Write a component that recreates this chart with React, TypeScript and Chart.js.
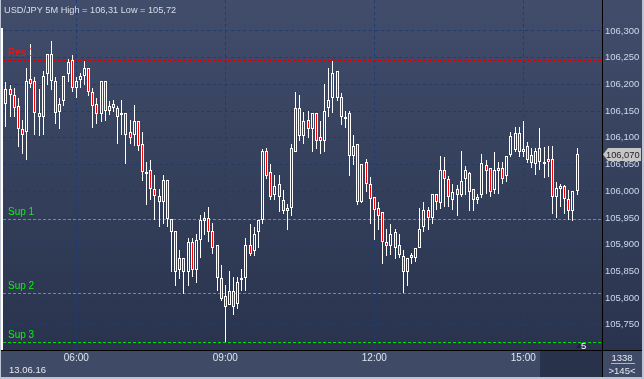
import React, { useEffect, useRef } from "react";
import { Chart, registerables } from "chart.js";

Chart.register(...registerables);

// ---------- data ----------
const titleText = "USD/JPY 5M High = 106,31 Low = 105,72";
const dateLabel = "13.06.16";
const startTime = "04:35";
const stepMinutes = 5;
const xTickTimes = ["06:00", "09:00", "12:00", "15:00"];
const yTickValues = [105.75, 105.8, 105.85, 105.9, 105.95, 106.0, 106.05, 106.1, 106.15, 106.2, 106.25, 106.3];
const levelNames = ["Res 1", "Sup 1", "Sup 2", "Sup 3"];
const levelValues = [106.246, 105.948, 105.81, 105.718];
const levelColors = ["#e00000", "#00e000", "#00e000", "#00e000"];
const totalBars = "1338";
const visibleBars = ">145<";
const shiftLabel = "5";

const opens = [
  106.164, 106.191, 106.18, 106.16, 106.116, 106.11, 106.21, 106.206, 106.146, 106.139,
  106.219, 106.257, 106.206, 106.149, 106.169, 106.219, 106.246, 106.194, 106.209, 106.215,
  106.23, 106.185, 106.164, 106.145, 106.206, 106.15, 106.164, 106.155, 106.146, 106.146,
  106.11, 106.105, 106.131, 106.089, 106.035, 106.039, 106.005, 105.991, 105.979, 106.021,
  105.948, 105.925, 105.852, 105.874, 105.849, 105.904, 105.853, 105.909, 105.944, 105.949,
  105.925, 105.899, 105.838, 105.804, 105.786, 105.814, 105.788, 105.834, 105.838, 105.899,
  105.888, 105.924, 105.946, 106.075, 106.035, 105.993, 106.014, 105.984, 105.969, 105.969,
  106.074, 106.155, 106.104, 106.134, 106.116, 106.146, 106.101, 106.094, 106.155, 106.175,
  106.225, 106.176, 106.139, 106.146, 106.065, 106.089, 105.98, 106.054, 106.014, 105.99,
  105.969, 105.961, 105.904, 105.898, 105.924, 105.899, 105.879, 105.849, 105.88, 105.874,
  105.894, 105.933, 105.964, 105.949, 105.994, 105.978, 106.039, 106.023, 105.983, 106.004,
  105.992, 106.023, 106.034, 106.004, 105.984, 105.992, 106.049, 106.044, 106.003, 106.038,
  106.044, 106.028, 106.068, 106.078, 106.109, 106.073, 106.085, 106.068, 106.05, 106.08,
  106.055, 106.06, 106.06, 105.989, 106.005, 106.009, 105.985, 105.963, 106.0,
];
const highs = [
  106.205, 106.198, 106.193, 106.174, 106.133, 106.231, 106.276, 106.213, 106.191, 106.225,
  106.257, 106.281, 106.213, 106.174, 106.216, 106.248, 106.255, 106.214, 106.222, 106.244,
  106.23, 106.193, 106.174, 106.206, 106.206, 106.168, 106.171, 106.16, 106.171, 106.146,
  106.133, 106.161, 106.131, 106.111, 106.055, 106.059, 106.03, 106.005, 106.03, 106.021,
  105.948, 105.925, 105.889, 105.874, 105.913, 105.913, 105.919, 105.955, 105.961, 105.971,
  105.941, 105.899, 105.861, 105.824, 105.851, 105.839, 105.839, 105.854, 105.913, 105.939,
  105.933, 105.946, 106.079, 106.08, 106.051, 106.03, 106.03, 106.002, 105.976, 106.089,
  106.185, 106.18, 106.149, 106.15, 106.146, 106.146, 106.131, 106.2, 106.23, 106.243,
  106.225, 106.183, 106.15, 106.15, 106.105, 106.089, 106.05, 106.06, 106.027, 105.99,
  105.98, 105.961, 105.929, 105.939, 105.929, 105.919, 105.889, 105.874, 105.885, 105.894,
  105.969, 105.979, 105.971, 105.994, 105.994, 106.065, 106.064, 106.029, 106.013, 106.011,
  106.075, 106.048, 106.036, 106.004, 105.995, 106.07, 106.058, 106.044, 106.074, 106.054,
  106.054, 106.065, 106.111, 106.12, 106.12, 106.131, 106.093, 106.08, 106.08, 106.118,
  106.082, 106.085, 106.085, 106.018, 106.014, 106.011, 106.002, 106.0, 106.08,
];
const lows = [
  106.121, 106.139, 106.139, 106.083, 106.069, 106.058, 106.193, 106.105, 106.104, 106.105,
  106.199, 106.189, 106.125, 106.116, 106.159, 106.205, 106.185, 106.175, 106.193, 106.199,
  106.179, 106.119, 106.125, 106.129, 106.131, 106.143, 106.149, 106.089, 106.105, 106.05,
  106.089, 106.085, 106.075, 106.019, 105.975, 105.983, 105.946, 105.933, 105.938, 105.933,
  105.849, 105.822, 105.836, 105.808, 105.822, 105.839, 105.828, 105.874, 105.918, 105.905,
  105.883, 105.813, 105.794, 105.718, 105.786, 105.769, 105.78, 105.814, 105.814, 105.878,
  105.878, 105.894, 105.939, 106.023, 105.984, 105.984, 105.961, 105.958, 105.927, 105.954,
  106.074, 106.094, 106.088, 106.099, 106.074, 106.079, 106.069, 106.074, 106.139, 106.146,
  106.169, 106.124, 106.119, 106.029, 106.049, 105.975, 105.977, 105.999, 105.939, 105.908,
  105.927, 105.864, 105.879, 105.88, 105.873, 105.874, 105.81, 105.823, 105.864, 105.868,
  105.894, 105.924, 105.927, 105.939, 105.964, 105.967, 105.97, 105.97, 105.964, 105.953,
  105.989, 105.992, 105.963, 105.963, 105.976, 105.988, 105.994, 105.989, 105.994, 105.995,
  106.013, 106.017, 106.064, 106.074, 106.064, 106.064, 106.052, 106.043, 106.03, 106.039,
  106.024, 106.027, 105.958, 105.949, 105.971, 105.958, 105.946, 105.944, 105.993,
];
const closes = [
  106.191, 106.18, 106.155, 106.116, 106.105, 106.206, 106.2, 106.146, 106.139, 106.216,
  106.257, 106.206, 106.146, 106.164, 106.215, 106.241, 106.194, 106.206, 106.216, 106.23,
  106.185, 106.16, 106.145, 106.206, 106.15, 106.16, 106.155, 106.139, 106.145, 106.105,
  106.1, 106.131, 106.085, 106.035, 106.034, 106.005, 105.991, 105.979, 106.021, 105.948,
  105.924, 105.849, 105.874, 105.849, 105.904, 105.853, 105.909, 105.946, 105.949, 105.924,
  105.894, 105.838, 105.799, 105.784, 105.814, 105.783, 105.829, 105.838, 105.899, 105.883,
  105.919, 105.946, 106.075, 106.029, 105.989, 106.009, 105.989, 105.963, 105.963, 106.08,
  106.155, 106.104, 106.131, 106.116, 106.146, 106.094, 106.094, 106.15, 106.171, 106.221,
  106.175, 106.139, 106.138, 106.065, 106.085, 105.979, 106.05, 106.014, 105.985, 105.964,
  105.954, 105.904, 105.898, 105.919, 105.894, 105.88, 105.849, 105.874, 105.874, 105.894,
  105.929, 105.964, 105.949, 105.994, 105.979, 106.039, 106.023, 105.989, 105.999, 105.993,
  106.02, 106.039, 105.999, 105.984, 105.989, 106.053, 106.038, 105.998, 106.039, 106.044,
  106.023, 106.065, 106.104, 106.109, 106.073, 106.079, 106.058, 106.052, 106.075, 106.055,
  106.053, 106.054, 105.989, 106.006, 106.009, 105.985, 105.963, 106.0, 106.07,
];

// ---------- view settings ----------
const X_MIN = -0.708;
const X_MAX = 144.01;
const Y_MIN = 105.7026;
const Y_MAX = 106.358;

const FAMILY = '"Liberation Sans", Arial, sans-serif';
const SZ = { title: 9.2, y: 9.5, x: 10, lvl: 10, small: 9.5, tag: 9.3 };

const toMin = (t: string) => {
  const [h, m] = t.split(":").map(Number);
  return h * 60 + m;
};
const xTickIndex = xTickTimes.map((t) => (toMin(t) - toMin(startTime)) / stepMinutes);
const fmt3 = (v: number) => v.toFixed(3).replace(".", ",");

const decorPlugin = {
  id: "decor",
  beforeDraw(chart: any) {
    const { ctx, width, height, chartArea } = chart;
    ctx.save();
    ctx.fillStyle = "#bcc4d4";
    ctx.fillRect(0, 0, width, height);
    const g = ctx.createLinearGradient(0, 0, 0, chartArea.bottom);
    g.addColorStop(0, "#414d6b");
    g.addColorStop(1, "#29334d");
    ctx.fillStyle = g;
    ctx.fillRect(1, 0, width - 3, chartArea.bottom);
    ctx.fillStyle = "#3e4a66";
    ctx.fillRect(1, chartArea.bottom, width - 3, height - chartArea.bottom - 2);
    ctx.fillStyle = "#28324a";
    ctx.fillRect(540, chartArea.bottom, chartArea.right - 540, height - chartArea.bottom - 2);
    ctx.restore();
  },
  beforeDatasetsDraw(chart: any) {
    const { ctx, chartArea, scales } = chart;
    // snap candle elements to whole pixels
    chart.data.datasets.forEach((_: any, di: number) => {
      const meta = chart.getDatasetMeta(di);
      meta.data.forEach((el: any) => {
        el.x = Math.floor(el.x) + 0.5;
        const y = Math.round(el.y);
        let b = Math.round(el.base);
        if (di === 0 && Math.abs(b - y) < 2) b = y + 2;
        el.y = y;
        el.base = b;
      });
    });
    // support / resistance lines
    ctx.save();
    levelValues.forEach((v, i) => {
      const y = Math.round(scales.y.getPixelForValue(v)) + 0.5;
      ctx.strokeStyle = levelColors[i];
      ctx.lineWidth = 1;
      ctx.setLineDash([3, 2]);
      ctx.beginPath();
      ctx.moveTo(chartArea.left, y);
      ctx.lineTo(chartArea.right, y);
      ctx.stroke();
    });
    ctx.restore();
  },
  afterDatasetsDraw(chart: any) {
    const { ctx, scales } = chart;
    ctx.save();
    ctx.font = `${SZ.lvl}px ${FAMILY}`;
    ctx.textBaseline = "alphabetic";
    ctx.textAlign = "left";
    levelValues.forEach((v, i) => {
      const y = Math.round(scales.y.getPixelForValue(v));
      ctx.fillStyle = i === 0 ? "#ff1010" : "#10f010";
      ctx.fillText(levelNames[i], 8, y - 4);
    });
    ctx.restore();
  },
  afterDraw(chart: any) {
    const { ctx, width, height, chartArea, scales } = chart;
    ctx.save();
    // separators
    ctx.fillStyle = "#000000";
    ctx.fillRect(chartArea.right, 0, 1, height);
    ctx.fillRect(0, chartArea.bottom, width, 1);
    // left white edge
    ctx.fillStyle = "#ffffff";
    ctx.fillRect(1, 28, 2, chartArea.bottom - 28);
    // title
    ctx.font = `${SZ.title}px ${FAMILY}`;
    ctx.fillStyle = "#d9dee8";
    ctx.textAlign = "left";
    ctx.textBaseline = "alphabetic";
    ctx.fillText(titleText, 4, 13);
    // date
    ctx.font = `${SZ.small}px ${FAMILY}`;
    ctx.fillStyle = "#e4e8f0";
    ctx.fillText(dateLabel, 9, 373);
    // shift marker
    ctx.fillStyle = "#1c2438";
    ctx.beginPath();
    ctx.moveTo(576, 348);
    ctx.lineTo(580, 343);
    ctx.lineTo(580, 348);
    ctx.closePath();
    ctx.fill();
    ctx.fillStyle = "#ffffff";
    ctx.font = `${SZ.small}px ${FAMILY}`;
    ctx.fillText(shiftLabel, 581, 349);
    // bottom-right counters
    ctx.font = `${SZ.small}px ${FAMILY}`;
    ctx.fillStyle = "#e4e8f0";
    ctx.textAlign = "center";
    ctx.fillText(totalBars, 622, 361);
    ctx.fillText(visibleBars, 622, 374);
    ctx.fillStyle = "#aeb6c6";
    ctx.fillRect(611, 363, 24, 1);
    // price tag
    const last = closes[closes.length - 1];
    const ty = Math.round(scales.y.getPixelForValue(last));
    ctx.fillStyle = "#c6c6c6";
    ctx.beginPath();
    ctx.moveTo(603, ty + 0.5);
    ctx.lineTo(608, ty - 6);
    ctx.lineTo(641, ty - 6);
    ctx.lineTo(641, ty + 7);
    ctx.lineTo(608, ty + 7);
    ctx.closePath();
    ctx.fill();
    ctx.fillStyle = "#1e1e1e";
    ctx.font = `${SZ.tag}px ${FAMILY}`;
    ctx.textAlign = "left";
    ctx.textBaseline = "middle";
    ctx.fillText(fmt3(last), 606, ty + 1);
    // outer frame
    ctx.fillStyle = "#bcc4d4";
    ctx.fillRect(0, 0, 1, height);
    ctx.fillRect(width - 2, 0, 2, height);
    ctx.fillRect(0, height - 2, width, 2);
    ctx.restore();
  },
};

export default function App() {
  const ref = useRef<HTMLCanvasElement>(null);
  useEffect(() => {
    const canvas = ref.current!;
    const bodyData = opens.map((o, i) => ({ x: i, y: [o, closes[i]] }));
    const upperWick = opens.map((o, i) => ({ x: i, y: [Math.max(o, closes[i]), highs[i]] }));
    const lowerWick = opens.map((o, i) => ({ x: i, y: [lows[i], Math.min(o, closes[i])] }));
    const gridColor = "#1f3c72";
    const chart = new Chart(canvas, {
      type: "bar",
      data: {
        datasets: [
          {
            data: bodyData as any,
            order: 0,
            grouped: false,
            barThickness: 3,
            borderWidth: 1,
            borderColor: "#ffffff",
            borderSkipped: false,
            inflateAmount: 0,
            backgroundColor: bodyData.map((d) => (d.y[1] < d.y[0] ? "#ff0000" : "rgba(0,0,0,0)")),
          } as any,
          {
            data: upperWick as any,
            order: 1,
            grouped: false,
            barThickness: 1,
            borderWidth: 0,
            inflateAmount: 0,
            backgroundColor: "#ffffff",
          } as any,
          {
            data: lowerWick as any,
            order: 2,
            grouped: false,
            barThickness: 1,
            borderWidth: 0,
            inflateAmount: 0,
            backgroundColor: "#ffffff",
          } as any,
        ],
      },
      options: {
        animation: false,
        responsive: false,
        devicePixelRatio: 1,
        events: [],
        layout: { padding: { left: 3, top: 0, right: 0, bottom: 0 } },
        plugins: { legend: { display: false }, tooltip: { enabled: false }, title: { display: false } },
        scales: {
          x: {
            type: "linear",
            position: "bottom",
            min: X_MIN,
            max: X_MAX,
            offset: false,
            bounds: "data",
            afterBuildTicks: (s: any) => {
              s.ticks = xTickIndex.map((v) => ({ value: v }));
            },
            afterFit: (s: any) => {
              s.height = 29;
              s.paddingLeft = 0;
              s.paddingRight = 0;
            },
            grid: { color: gridColor, lineWidth: 1, drawTicks: false, offset: false },
            border: { display: false, dash: [3, 3] },
            ticks: {
              color: "#dfe5ef",
              font: { family: FAMILY, size: SZ.x },
              padding: 2,
              maxRotation: 0,
              autoSkip: false,
              callback: (v: any) => {
                const idx = xTickIndex.indexOf(Number(v));
                return idx >= 0 ? xTickTimes[idx] : "";
              },
            },
          },
          y: {
            type: "linear",
            position: "right",
            min: Y_MIN,
            max: Y_MAX,
            bounds: "data",
            afterBuildTicks: (s: any) => {
              s.ticks = yTickValues.map((v) => ({ value: v }));
            },
            afterFit: (s: any) => {
              s.width = 42;
              s.paddingTop = 0;
              s.paddingBottom = 0;
            },
            grid: { color: gridColor, lineWidth: 1, drawTicks: false },
            border: { display: false, dash: [3, 3] },
            ticks: {
              color: "#cdd8ec",
              font: { family: FAMILY, size: SZ.y },
              padding: 3,
              callback: (v: any) => fmt3(Number(v)),
            },
          },
        },
      } as any,
      plugins: [decorPlugin],
    });
    return () => chart.destroy();
  }, []);
  return (
    <canvas
      ref={ref}
      width={644}
      height={379}
      style={{ position: "fixed", left: 0, top: 0, width: 644, height: 379 }}
    />
  );
}
